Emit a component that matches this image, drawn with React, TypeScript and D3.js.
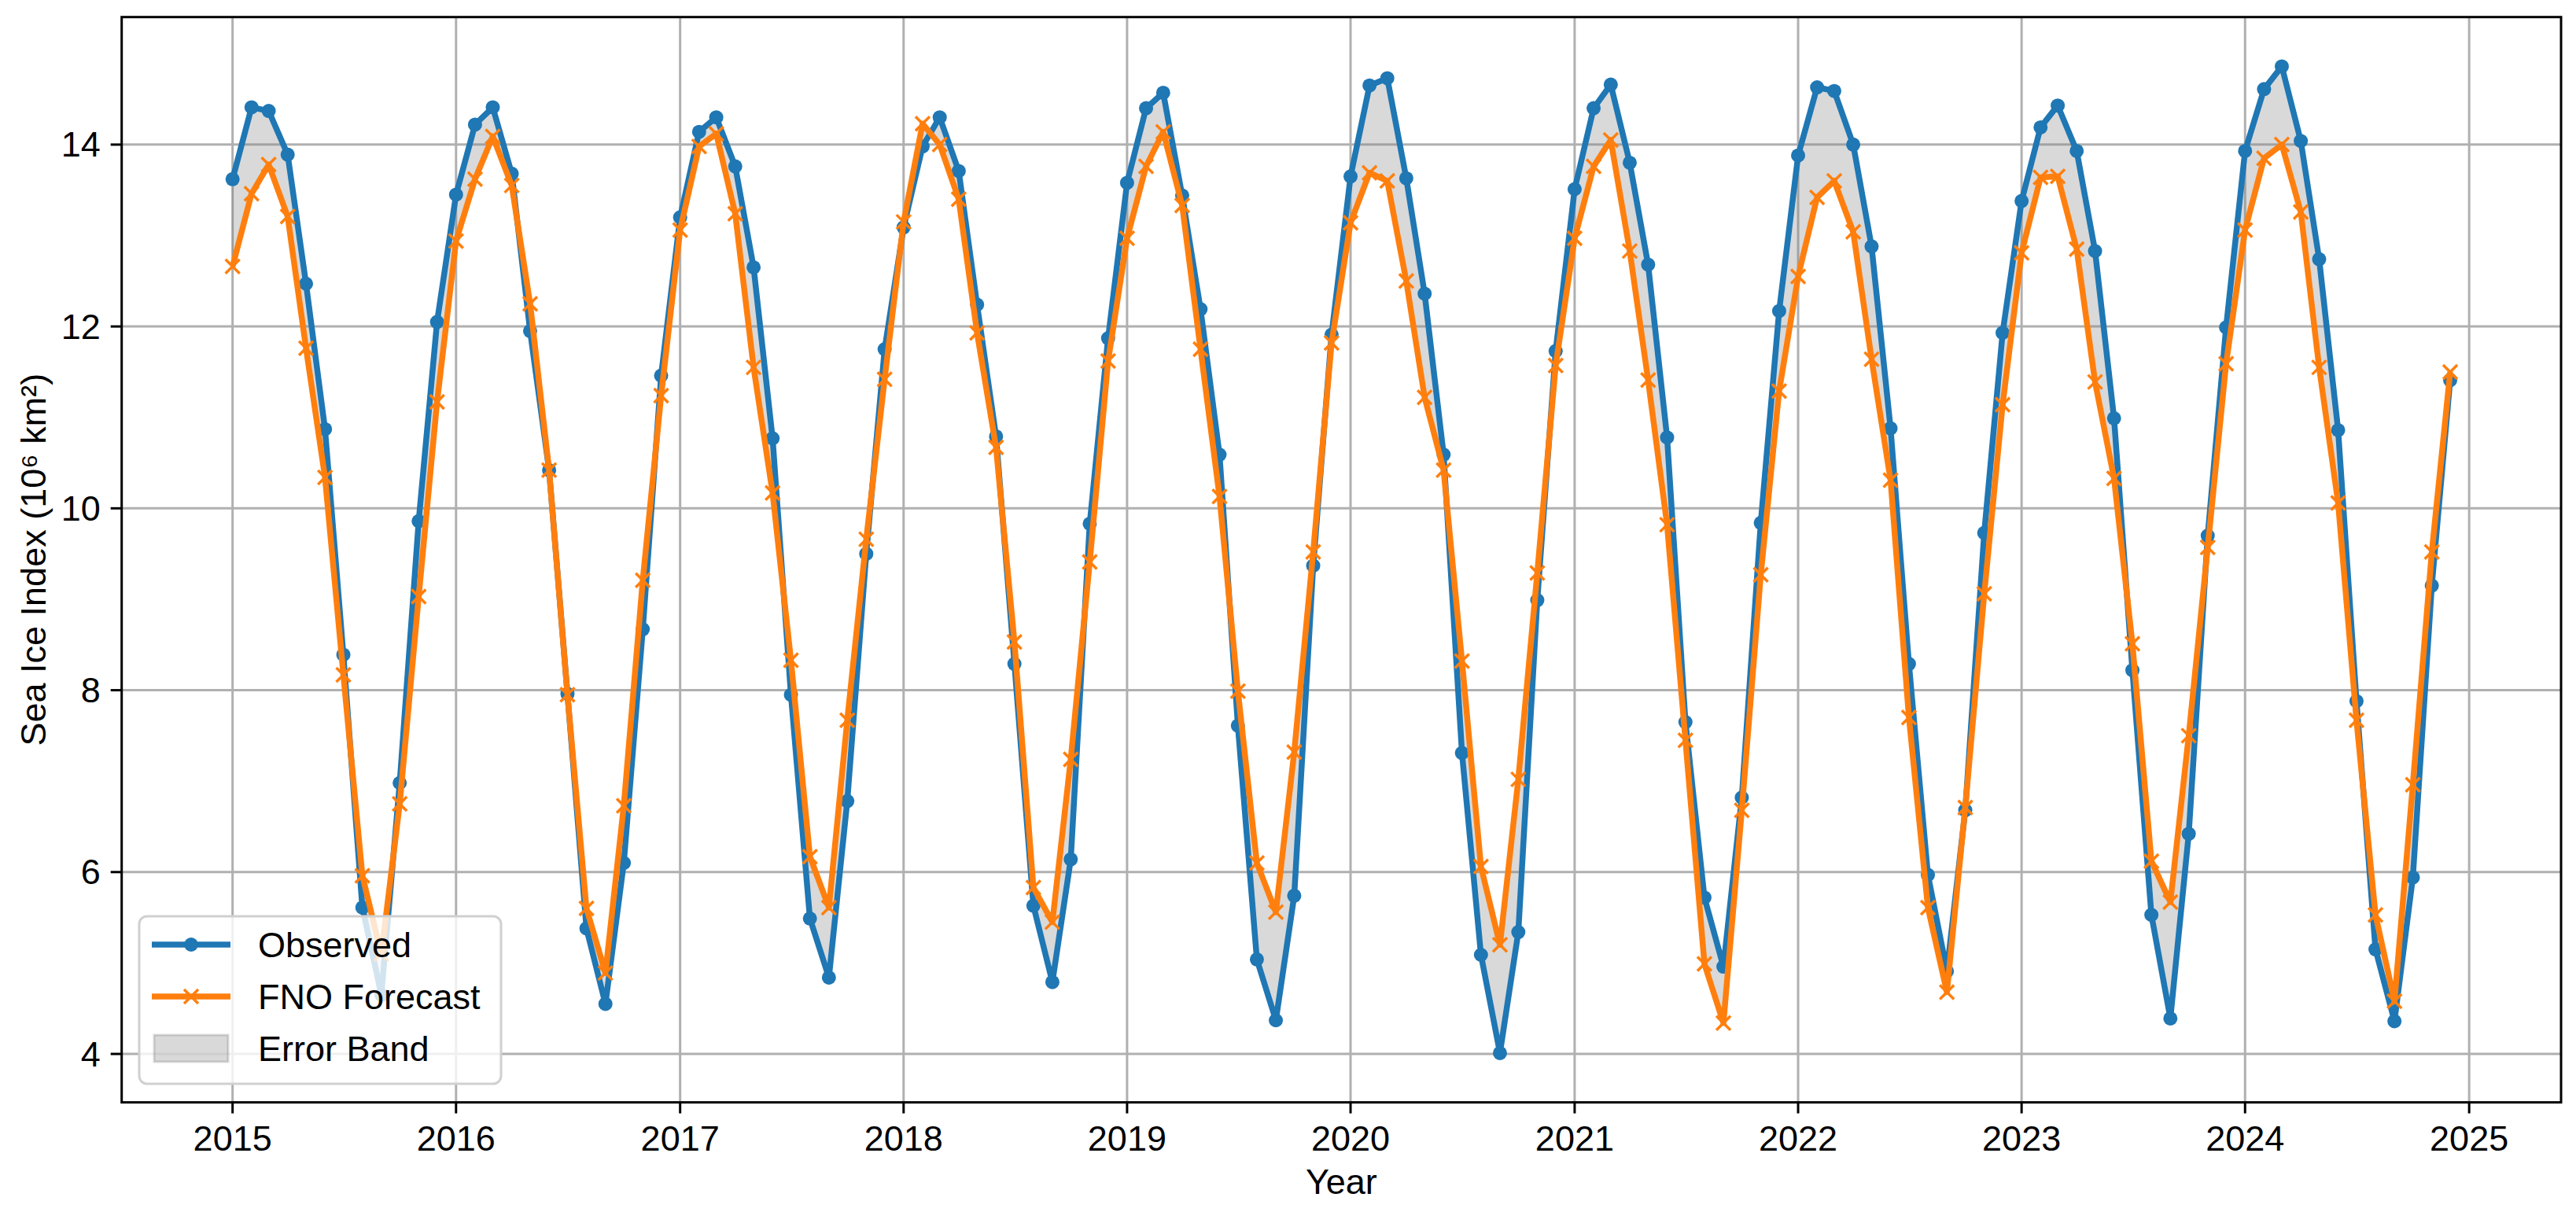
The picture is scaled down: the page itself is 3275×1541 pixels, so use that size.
import React from "react";
import * as d3 from "d3";

const years = [2015, 2016, 2017, 2018, 2019, 2020, 2021, 2022, 2023, 2024];
const monthsPerYear = 12;

const observed = [
  13.62, 14.41, 14.37, 13.89, 12.47, 10.87, 8.39, 5.61, 4.65, 6.98, 9.86, 12.05,
  13.45, 14.22, 14.41, 13.68, 11.95, 10.42, 7.96, 5.38, 4.55, 6.10, 8.67, 11.46,
  13.20, 14.14, 14.30, 13.76, 12.65, 10.77, 7.95, 5.49, 4.84, 6.78, 9.50, 11.75,
  13.09, 13.98, 14.30, 13.71, 12.24, 10.79, 8.29, 5.63, 4.79, 6.14, 9.83, 11.87,
  13.58, 14.40, 14.57, 13.44, 12.19, 10.59, 7.61, 5.04, 4.37, 5.74, 9.37, 11.91,
  13.65, 14.65, 14.73, 13.63, 12.36, 10.59, 7.31, 5.09, 4.01, 5.34, 8.99, 11.73,
  13.51, 14.40, 14.66, 13.80, 12.68, 10.78, 7.65, 5.72, 4.96, 6.82, 9.84, 12.17,
  13.88, 14.63, 14.59, 14.00, 12.88, 10.88, 8.29, 5.97, 4.91, 6.68, 9.73, 11.93,
  13.38, 14.19, 14.43, 13.93, 12.83, 10.99, 8.22, 5.53, 4.39, 6.42, 9.70, 11.99,
  13.93, 14.61, 14.86, 14.04, 12.74, 10.86, 7.88, 5.15, 4.36, 5.94, 9.15, 11.41,
];

const forecast = [
  12.66, 13.46, 13.78, 13.21, 11.76, 10.34, 8.17, 5.96, 5.10, 6.75, 9.03, 11.17,
  12.94, 13.62, 14.09, 13.55, 12.25, 10.42, 7.95, 5.60, 4.89, 6.73, 9.21, 11.24,
  13.06, 13.98, 14.12, 13.24, 11.55, 10.17, 8.33, 6.17, 5.61, 7.67, 9.66, 11.42,
  13.15, 14.23, 14.00, 13.40, 11.93, 10.67, 8.53, 5.83, 5.45, 7.24, 9.41, 11.62,
  12.97, 13.76, 14.14, 13.33, 11.75, 10.13, 7.99, 6.10, 5.56, 7.32, 9.52, 11.82,
  13.14, 13.69, 13.60, 12.50, 11.22, 10.42, 8.32, 6.06, 5.20, 7.02, 9.29, 11.57,
  12.97, 13.76, 14.05, 12.83, 11.41, 9.82, 7.45, 4.99, 4.34, 6.68, 9.27, 11.29,
  12.55, 13.42, 13.60, 13.04, 11.64, 10.31, 7.70, 5.61, 4.68, 6.71, 9.06, 11.14,
  12.81, 13.64, 13.65, 12.85, 11.39, 10.33, 8.51, 6.12, 5.67, 7.50, 9.57, 11.59,
  13.06, 13.85, 14.00, 13.26, 11.55, 10.06, 7.67, 5.53, 4.58, 6.96, 9.52, 11.50,
];

const yTicks = [4, 6, 8, 10, 12, 14];
const seriesNames = ["Observed", "FNO Forecast", "Error Band"];

const W = 3275;
const H = 1541;
const plot = { left: 154.7, right: 3256, top: 21.7, bottom: 1401.6 };
const FONT = "'Liberation Sans', Arial, Helvetica, sans-serif";
const FS = 45;
const BLUE = "#1f77b4";
const ORANGE = "#ff7f0e";

type Pt = { date: Date; obs: number; fno: number };

const data: Pt[] = [];
years.forEach((yr, yi) => {
  for (let m = 0; m < monthsPerYear; m++) {
    const i = yi * monthsPerYear + m;
    data.push({ date: new Date(Date.UTC(yr, m, 1)), obs: observed[i], fno: forecast[i] });
  }
});

export default function App() {
  const t0 = data[0].date.getTime();
  const t1 = data[data.length - 1].date.getTime();
  const tp = (t1 - t0) * 0.05;
  const x = d3.scaleUtc().domain([new Date(t0 - tp), new Date(t1 + tp)]).range([plot.left, plot.right]);

  const allV = observed.concat(forecast);
  const vmin = d3.min(allV) as number;
  const vmax = d3.max(allV) as number;
  const vp = (vmax - vmin) * 0.05;
  const y = d3.scaleLinear().domain([vmin - vp, vmax + vp]).range([plot.bottom, plot.top]);

  const xTicks = x.ticks(d3.utcYear.every(1) as any);
  const fmt = d3.utcFormat("%Y");

  const area = d3.area<Pt>().x((d) => x(d.date)).y0((d) => y(d.fno)).y1((d) => y(d.obs));
  const lineObs = d3.line<Pt>().x((d) => x(d.date)).y((d) => y(d.obs));
  const lineFno = d3.line<Pt>().x((d) => x(d.date)).y((d) => y(d.fno));

  const xm = 9;
  const xMarker = (cx: number, cy: number, key: any, sw = 3.5) => (
    <path key={key} d={`M${cx - xm},${cy - xm}L${cx + xm},${cy + xm}M${cx - xm},${cy + xm}L${cx + xm},${cy - xm}`}
      stroke={ORANGE} strokeWidth={sw} fill="none" />
  );

  const leg = { x: 177, y: 1165, w: 460, h: 213 };
  const rows = [1201, 1267, 1333];

  return (
    <svg width={W} height={H} style={{ position: "absolute", left: 0, top: 0, display: "block", background: "#fff" }}
      fontFamily={FONT}>
      <rect x={0} y={0} width={W} height={H} fill="#fff" />
      <defs>
        <clipPath id="clip">
          <rect x={plot.left} y={plot.top} width={plot.right - plot.left} height={plot.bottom - plot.top} />
        </clipPath>
      </defs>
      {/* grid */}
      <g stroke="#b0b0b0" strokeWidth={3}>
        {xTicks.map((t, i) => (
          <line key={"gx" + i} x1={x(t)} x2={x(t)} y1={plot.top} y2={plot.bottom} />
        ))}
        {yTicks.map((v) => (
          <line key={"gy" + v} x1={plot.left} x2={plot.right} y1={y(v)} y2={y(v)} />
        ))}
      </g>
      <g clipPath="url(#clip)">
        <path d={area(data) || ""} fill="rgba(128,128,128,0.3)" stroke="rgba(128,128,128,0.3)" strokeWidth={2} />
        <path d={lineObs(data) || ""} fill="none" stroke={BLUE} strokeWidth={7.5} strokeLinejoin="round" />
        {data.map((d, i) => (
          <circle key={"o" + i} cx={x(d.date)} cy={y(d.obs)} r={9} fill={BLUE} />
        ))}
        <path d={lineFno(data) || ""} fill="none" stroke={ORANGE} strokeWidth={7.5} strokeLinejoin="round" />
        {data.map((d, i) => xMarker(x(d.date), y(d.fno), "f" + i))}
      </g>
      {/* spines */}
      <rect x={plot.left} y={plot.top} width={plot.right - plot.left} height={plot.bottom - plot.top}
        fill="none" stroke="#000" strokeWidth={3} />
      {/* x ticks */}
      <g>
        {xTicks.map((t, i) => (
          <g key={"xt" + i}>
            <line x1={x(t)} x2={x(t)} y1={plot.bottom} y2={plot.bottom + 14} stroke="#000" strokeWidth={3} />
            <text x={x(t)} y={plot.bottom + 46} textAnchor="middle" dominantBaseline="central" fontSize={FS}>
              {fmt(t)}
            </text>
          </g>
        ))}
      </g>
      {/* y ticks */}
      <g>
        {yTicks.map((v) => (
          <g key={"yt" + v}>
            <line x1={plot.left - 14} x2={plot.left} y1={y(v)} y2={y(v)} stroke="#000" strokeWidth={3} />
            <text x={plot.left - 27} y={y(v)} textAnchor="end" dominantBaseline="central" fontSize={FS}>
              {v}
            </text>
          </g>
        ))}
      </g>
      <text x={(plot.left + plot.right) / 2} y={1502} textAnchor="middle" dominantBaseline="central" fontSize={FS}>
        Year
      </text>
      <text transform={`translate(42, ${(plot.top + plot.bottom) / 2}) rotate(-90)`} textAnchor="middle"
        dominantBaseline="central" fontSize={FS}>
        Sea Ice Index (10⁶ km²)
      </text>
      {/* legend */}
      <g>
        <rect x={leg.x} y={leg.y} width={leg.w} height={leg.h} rx={10} fill="rgba(255,255,255,0.8)"
          stroke="#d0d0d0" strokeWidth={3} />
        <line x1={193} x2={293} y1={rows[0]} y2={rows[0]} stroke={BLUE} strokeWidth={7.5} />
        <circle cx={243} cy={rows[0]} r={9} fill={BLUE} />
        <line x1={193} x2={293} y1={rows[1]} y2={rows[1]} stroke={ORANGE} strokeWidth={7.5} />
        {xMarker(243, rows[1], "lx")}
        <rect x={196} y={rows[2] - 17} width={94} height={34} fill="rgba(128,128,128,0.3)"
          stroke="rgba(128,128,128,0.3)" strokeWidth={3} />
        {seriesNames.map((s, i) => (
          <text key={s} x={328} y={rows[i]} dominantBaseline="central" fontSize={FS}>
            {s}
          </text>
        ))}
      </g>
    </svg>
  );
}
